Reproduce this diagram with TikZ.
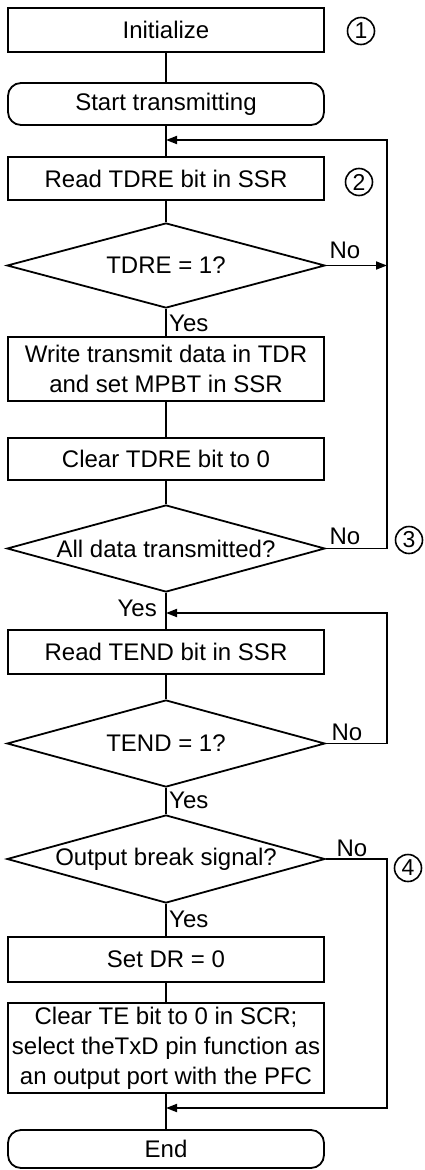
\documentclass[tikz,border=0pt]{standalone}
\usepackage{fontspec}
\setmainfont{Liberation Sans}
\usetikzlibrary{shapes.geometric,arrows.meta}
\begin{document}
\begin{tikzpicture}[x=1pt,y=-1pt,
  every node/.style={font=\fontsize{24}{30}\selectfont},
  proc/.style={draw, line width=1.8pt, minimum width=316pt, inner sep=0pt, align=center},
  term/.style={proc, rounded corners=13pt},
  dec/.style={draw, line width=1.8pt, diamond, aspect=3.65, minimum width=318pt, inner sep=0pt},
  lbl/.style={inner sep=0pt},
  num/.style={draw, circle, line width=1.6pt, minimum size=27pt, inner sep=0pt, font=\fontsize{23}{23}\selectfont},
  conn/.style={line width=1.8pt},
  arr/.style={conn, -{Triangle[length=11pt,width=8pt]}}
]
\useasboundingbox (0,0) rectangle (424,1170);
% nodes
\node[proc, minimum height=44pt] (init) at (166,30) {Initialize};
\node[term, minimum height=42pt] (start) at (166,104) {Start transmitting};
\node[proc, minimum height=43pt] (rd1) at (166,178.5) {Read TDRE bit in SSR};
\node[dec, minimum height=85pt] (d1) at (166,265.5) {TDRE = 1?};
\node[proc, minimum height=64pt] (wr) at (166,369) {Write transmit data in TDR\\and set MPBT in SSR};
\node[proc, minimum height=42pt] (clr) at (166,459) {Clear TDRE bit to 0};
\node[dec, minimum height=87pt] (d2) at (166,548.5) {All data transmitted?};
\node[proc, minimum height=44pt] (rd2) at (166,652) {Read TEND bit in SSR};
\node[dec, minimum height=87pt] (d3) at (166,743.5) {TEND = 1?};
\node[dec, minimum height=88pt] (d4) at (166,859) {Output break signal?};
\node[proc, minimum height=45pt] (sdr) at (166,959.5) {Set DR = 0};
\node[proc, minimum height=90pt] (cte) at (166,1048) {Clear TE bit to 0 in SCR;\\select theTxD pin function as\\an output port with the PFC};
\node[term, minimum height=38pt] (end) at (166,1149) {End};
% circled numbers
\node[num] (n1) at (361,31) {1};
\node[num] (n2) at (359,182) {2};
\node[num] (n3) at (409,540) {3};
\node[num] (n4) at (408,868) {4};
% labels
\node[lbl, anchor=west] (y1) at (169,323) {Yes};
\node[lbl, anchor=east] (y2) at (157,608) {Yes};
\node[lbl, anchor=west] (y3) at (169,800) {Yes};
\node[lbl, anchor=west] (y4) at (169,919) {Yes};
\node[lbl] (no1) at (345,250) {No};
\node[lbl] (no2) at (345,536) {No};
\node[lbl] (no3) at (347,732) {No};
\node[lbl] (no4) at (352,848) {No};
% coordinates
\coordinate (m1) at (166,140);
\coordinate (m2) at (166,613);
\coordinate (m3) at (166,1108);
\coordinate (j1) at (387,265.5);
\coordinate (r2a) at (387,548.5);
\coordinate (r2b) at (387,140);
\coordinate (r3a) at (387,743.5);
\coordinate (r3b) at (387,613);
\coordinate (r4a) at (387,859);
\coordinate (r4b) at (387,1108);
% connectors
\draw[conn] (init) -- (start);
\draw[conn] (start) -- (rd1);
\draw[conn] (rd1) -- (d1);
\draw[conn] (d1) -- (wr);
\draw[conn] (wr) -- (clr);
\draw[conn] (clr) -- (d2);
\draw[conn] (d2) -- (rd2);
\draw[conn] (rd2) -- (d3);
\draw[conn] (d3) -- (d4);
\draw[conn] (d4) -- (sdr);
\draw[conn] (sdr) -- (cte);
\draw[conn] (cte) -- (end);
\draw[arr] (d1.east) -- (j1);
\draw[arr] (d2.east) -- (r2a) -- (r2b) -- (m1);
\draw[arr] (d3.east) -- (r3a) -- (r3b) -- (m2);
\draw[arr] (d4.east) -- (r4a) -- (r4b) -- (m3);
\end{tikzpicture}
\end{document}
